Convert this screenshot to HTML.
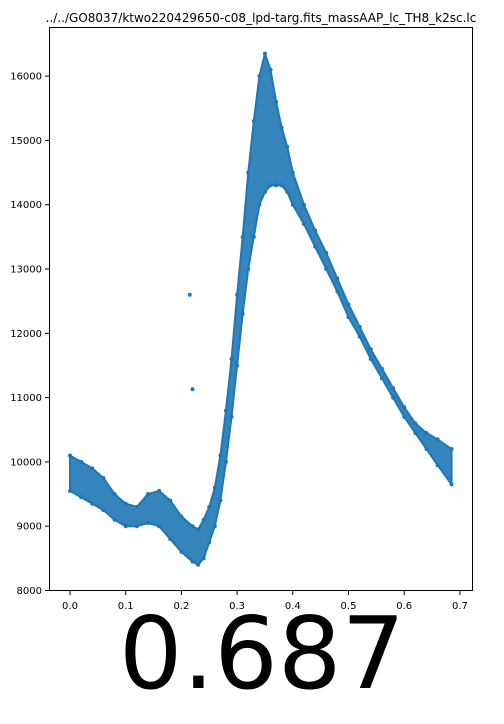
<!DOCTYPE html>
<html><head><meta charset="utf-8"><style>
body{margin:0;background:#fff;width:504px;height:720px;overflow:hidden;font-family:"DejaVu Sans","Liberation Sans",sans-serif}
</style></head><body>
<svg width="504" height="720" xmlns="http://www.w3.org/2000/svg">
<text x="261" y="22" text-anchor="middle" font-size="12">../../GO8037/ktwo220429650-c08_lpd-targ.fits_massAAP_lc_TH8_k2sc.lc</text>
<g id="band"></g>
<g id="pts"></g>
<rect x="49.5" y="27.5" width="423" height="563" fill="none" stroke="#000" stroke-width="1"/>
<g id="xt"></g>
<g id="yt"></g>
<text x="262" y="688" text-anchor="middle" font-size="100" font-family="DejaVu Sans, sans-serif">0.687</text>
</svg>
<script>
const phase=[0,0.02,0.04,0.06,0.08,0.10,0.12,0.14,0.16,0.18,0.20,0.22,0.23,0.24,0.25,0.26,0.27,0.28,0.29,0.30,0.31,0.32,0.33,0.34,0.35,0.36,0.37,0.38,0.39,0.40,0.42,0.44,0.46,0.48,0.50,0.52,0.54,0.56,0.58,0.60,0.62,0.64,0.66,0.685];
const fluxLow=[9550,9450,9350,9250,9100,9000,9000,9050,9000,8800,8600,8450,8400,8500,8750,9000,9400,10000,10700,11500,12300,13000,13500,14000,14200,14300,14300,14300,14200,14000,13700,13350,13000,12650,12250,11950,11600,11300,11000,10700,10450,10200,9950,9650];
const fluxHigh=[10100,10000,9900,9750,9500,9350,9300,9500,9550,9400,9150,9000,8950,9100,9300,9600,10100,10800,11600,12600,13500,14500,15300,16000,16350,16100,15600,15200,14900,14500,14000,13600,13250,12850,12450,12100,11750,11450,11150,10850,10600,10450,10350,10200];
const outPhase=[0.215,0.22];
const outFlux=[12600,11130];
const xTicks=[0,0.1,0.2,0.3,0.4,0.5,0.6,0.7];
const xLabels=["0.0","0.1","0.2","0.3","0.4","0.5","0.6","0.7"];
const yTicks=[8000,9000,10000,11000,12000,13000,14000,15000,16000];
const X=v=>70+v*557;
const Y=v=>590.5-(v-8000)*0.0643;
const NS="http://www.w3.org/2000/svg";
const C="#1f77b4";
function mk(t,a,p){const e=document.createElementNS(NS,t);for(const k in a)e.setAttribute(k,a[k]);p.appendChild(e);return e;}
let d="M"+phase.map((p,i)=>X(p)+","+Y(fluxHigh[i])).join("L");
for(let i=phase.length-1;i>=0;i--)d+="L"+X(phase[i])+","+Y(fluxLow[i]);
const band=mk("path",{d:d+"Z",fill:C,"fill-opacity":"0.9",stroke:C,"stroke-width":"2","stroke-linejoin":"round"},document.getElementById("band"));


const pts=document.getElementById("pts");
phase.forEach((p,i)=>{
 [fluxLow[i],fluxHigh[i]].forEach(f=>{
  const c=mk("circle",{cx:X(p),cy:Y(f),r:2,fill:C},pts);
  
  
 });
});
outPhase.forEach((p,i)=>{
 const c=mk("circle",{cx:X(p),cy:Y(outFlux[i]),r:2,fill:C},pts);
 
 
});
const xt=document.getElementById("xt");
xTicks.forEach((t,i)=>{
 const l=mk("line",{x1:X(t),x2:X(t),y1:591,y2:595,stroke:"#000"},xt);
 
 
 const s=mk("text",{x:X(t),y:609,"text-anchor":"middle","font-size":"10"},xt);
 s.textContent=xLabels[i];
 
 
});
const yt=document.getElementById("yt");
yTicks.forEach(t=>{
 const l=mk("line",{x1:45,x2:49.5,y1:Y(t),y2:Y(t),stroke:"#000"},yt);
 
 
 const s=mk("text",{x:42,y:Y(t)+3.5,"text-anchor":"end","font-size":"10"},yt);
 s.textContent=String(t);
 
 
});
</script>
</body></html>
